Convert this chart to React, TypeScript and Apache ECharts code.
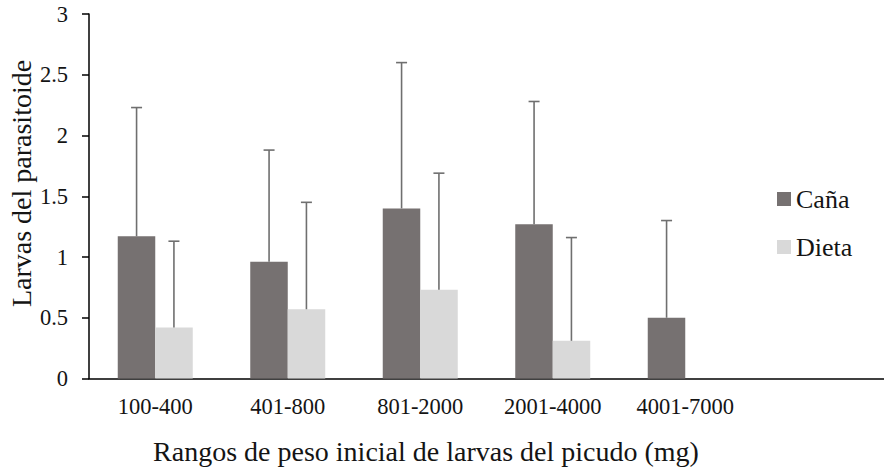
import React, { useEffect, useRef } from "react";
import * as echarts from "echarts";

const categories = ["100-400", "401-800", "801-2000", "2001-4000", "4001-7000", ""];
const cana = [1.17, 0.96, 1.4, 1.27, 0.5, null];
const dieta = [0.42, 0.57, 0.73, 0.31, null, null];
const canaUpper = [2.23, 1.88, 2.6, 2.28, 1.3, null];
const dietaUpper = [1.13, 1.45, 1.69, 1.16, null, null];
const yTicks = [0, 0.5, 1, 1.5, 2, 2.5, 3];

const FONT = "Liberation Serif";
const CANA_COLOR = "#767171";
const DIETA_COLOR = "#d9d9d9";
const ERR_COLOR = "#6f6f6f";
const TEXT_COLOR = "#141414";

function errData(vals: (number | null)[], uppers: (number | null)[]) {
  const out: any[] = [];
  vals.forEach((v, i) => {
    const u = uppers[i];
    if (v != null && u != null) out.push([i, u, v]);
  });
  return out;
}

function makeRender(sign: number) {
  return (params: any, api: any) => {
    const x = api.value(0);
    const base = api.coord([x, api.value(2)]);
    const top = api.coord([x, api.value(1)]);
    const bw = api.size([1, 0])[0];
    const cx = base[0] + sign * bw * 0.141;
    const style = { stroke: ERR_COLOR, lineWidth: 1.6 };
    return {
      type: "group",
      children: [
        { type: "line", shape: { x1: cx, y1: base[1], x2: cx, y2: top[1] }, style },
        { type: "line", shape: { x1: cx - 5.5, y1: top[1], x2: cx + 5.5, y2: top[1] }, style },
      ],
    };
  };
}

export default function App() {
  const ref = useRef<HTMLDivElement>(null);
  useEffect(() => {
    if (!ref.current) return;
    const chart = echarts.init(ref.current, null, { renderer: "svg" });
    chart.setOption({
      animation: false,
      backgroundColor: "#ffffff",
      textStyle: { fontFamily: FONT },
      grid: { left: 89, top: 14, width: 798, height: 364.5, containLabel: false },
      legend: {
        orient: "vertical",
        left: 772,
        top: 181,
        itemWidth: 14,
        itemHeight: 14,
        itemGap: 22,
        icon: "rect",
        textStyle: { fontFamily: FONT, fontSize: 26, color: TEXT_COLOR },
        data: ["Caña", "Dieta"],
      },
      xAxis: {
        type: "category",
        data: categories,
        axisLine: { lineStyle: { color: "#000", width: 1.5 } },
        axisTick: { show: false },
        axisLabel: { fontFamily: FONT, fontSize: 22.5, color: TEXT_COLOR, margin: 16, interval: 0 },
      },
      yAxis: {
        type: "value",
        min: 0,
        max: 3,
        interval: 0.5,
        splitLine: { show: false },
        axisLine: { show: true, lineStyle: { color: "#000", width: 1.5 } },
        axisTick: { show: true, length: 7, lineStyle: { color: "#000", width: 1.5 } },
        axisLabel: {
          fontFamily: FONT,
          fontSize: 22.5,
          color: TEXT_COLOR,
          margin: 21,
          formatter: (v: number) => (yTicks.includes(v) ? String(v) : ""),
        },
      },
      series: [
        {
          name: "Caña",
          type: "bar",
          data: cana,
          barWidth: 37.5,
          barGap: "0%",
          itemStyle: { color: CANA_COLOR },
        },
        {
          name: "Dieta",
          type: "bar",
          data: dieta,
          barWidth: 37.5,
          barGap: "0%",
          itemStyle: { color: DIETA_COLOR },
        },
        {
          type: "custom",
          name: "errCana",
          data: errData(cana, canaUpper),
          renderItem: makeRender(-1),
          encode: { x: 0, y: [1, 2] },
          z: 5,
        },
        {
          type: "custom",
          name: "errDieta",
          data: errData(dieta, dietaUpper),
          renderItem: makeRender(1),
          encode: { x: 0, y: [1, 2] },
          z: 5,
        },
      ],
      graphic: [
        {
          type: "text",
          rotation: Math.PI / 2,
          x: 21,
          y: 183.5,
          style: {
            text: "Larvas del parasitoide",
            fontFamily: FONT,
            fontSize: 28,
            fill: TEXT_COLOR,
            textAlign: "center",
            textVerticalAlign: "middle",
          },
        },
        {
          type: "text",
          x: 426,
          y: 451,
          style: {
            text: "Rangos de peso inicial de larvas del picudo (mg)",
            fontFamily: FONT,
            fontSize: 28,
            fill: TEXT_COLOR,
            textAlign: "center",
            textVerticalAlign: "middle",
          },
        },
      ],
    });
    return () => chart.dispose();
  }, []);
  return <div ref={ref} style={{ width: 884, height: 467, position: "absolute", left: 0, top: 0 }} />;
}
